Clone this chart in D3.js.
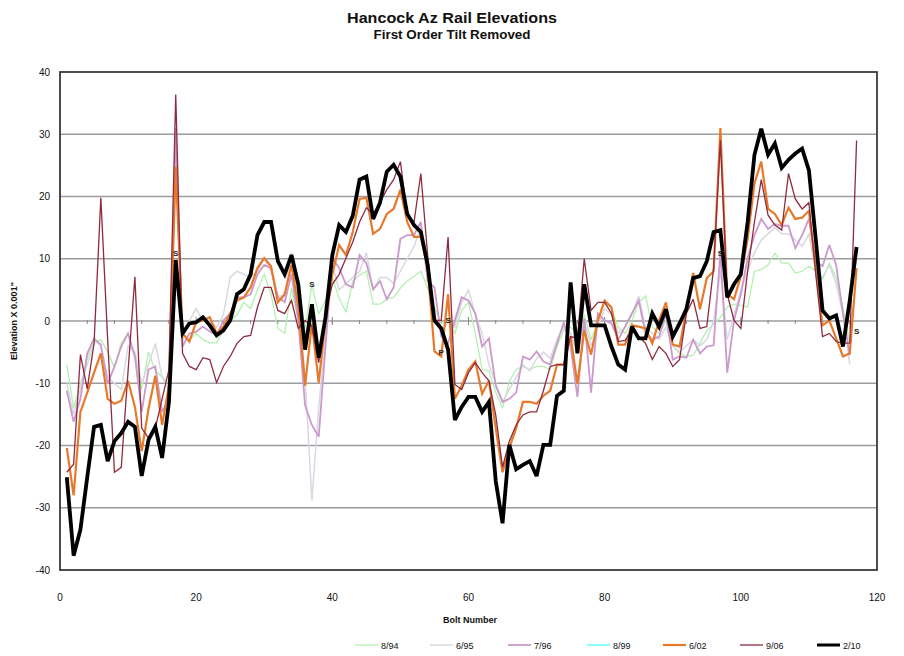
<!DOCTYPE html>
<html><head><meta charset="utf-8">
<script src="https://cdn.jsdelivr.net/npm/d3@7"></script>
<style>
body{margin:0;background:#fff;}
svg{display:block;font-family:"Liberation Sans",Arial,sans-serif;}
</style></head>
<body><svg id="c" width="904" height="656"></svg>
<script>
const seriesNames = ["8/94","6/95","7/96","8/99","6/02","9/06","2/10"];
const seriesColors = ["#b4f0b0","#d8d8e2","#cc99cc","#66ffff","#e8792a","#8e2b3e","#000000"];
const seriesWidths = [1.3,1.5,1.8,1.5,2.2,1.3,3.8];
const xTicks = [0,20,40,60,80,100,120];
const yTicks = [-40,-30,-20,-10,0,10,20,30,40];

const s894 = [-7,-14,-10,-7,-3.5,-3,-5,-7.5,-3.5,-2,-6,-11,-5,-8,-9,-10,10,-2,-3,-2,-3,-3.5,-3.5,-1.5,0,1,3,2,5,7.5,
4.3,-1.2,-2,5.3,0,-1,5.8,1.2,3.3,6.9,3.7,1.4,6.4,7.4,8,2.7,2.7,3.5,3.8,5.3,6.4,7.2,8,5.3,2.2,-0.4,0.1,-2,1.7,3,
-2,-7.8,-8,-11.5,-14,-9.7,-7.8,-7.3,-7.8,-7.3,-7.3,-7.8,-4.1,-1.5,-1,-2,1,-3,0,3,2,-1,-2,0,3,4,-1,-2,0,-4,
-5.2,-5.7,-5.5,-3.6,-1.5,-0.5,0.6,2.2,2.7,2.5,2.2,8,8.3,9,10.9,9.3,9.3,7.7,8,8.8,8,6.7,9.3,7,2.2,-3.6,null];
const s695 = [-10,-15,-11,-6,-3,-4,-9,-10,-11,-4,-5,-10,-7,-3.6,-9,-11,26,-3,0,2,0,0,-1,1,7,8,7.5,7,8,10,
8,4,4,11,3,-9,-28.8,-14,-2,9,5,6,7,8,11,5,7,7,6,8,10,12,15,7,1,-2,0,-1,3,5,
1,-2,-7,-10,-13,-11,-9,-7,-8,-6,-5,-6,-3,-1,-2,-5,0,-4,-1,2,1,-2,-1,1,4,-1,-2,-3,-1,-4,
-5,-4,-3,-4,-3,0,8,-3,1,5,8,11,13,14,15,14,14,13,12,14,8,7,9,6,1,-7,null];
const s796 = [-11.2,-16.2,-12.5,-5.2,-2.8,-3.8,-10.1,-7.3,-4.1,-2,-5.7,-14.6,-7.8,-7.3,-14.6,-12.5,31,-4.1,-2,-1.7,-0.9,-1.7,-2.3,0.1,1.2,3.8,3.8,4.3,7.5,9,
8.5,3.8,3,7.5,0.1,-13.6,-16.7,-18.6,-4.1,10.1,8.5,5.9,5.4,10.6,9.3,5.1,6.4,3.5,5.4,13.2,13.8,13.8,15.9,6.4,5.4,-2.5,-3.6,0.1,3.8,3.3,
1.2,-4.1,-2.8,-10.4,-13,-12.5,-11.5,-5.7,-6.2,-4.9,-6.5,-7,-3.6,-0.2,-4.1,-12.2,0.4,-11.5,1.2,0.1,-0.4,-3,-0.9,1.2,3.3,-2,-3,-2.5,1.2,-6.2,
-5.7,-5.9,-3,-5.2,-4.1,-3.9,11.1,-8.3,0.1,4.3,10.1,13.8,16.4,14.8,15.6,15.3,15.3,11.7,13.8,16.4,9.6,8.8,12.2,9,1.2,-5.5,null];
const s899 = [];
const s602 = [-20.4,-28,-14.6,-11.5,-8.3,-5.2,-12.5,-13.3,-12.8,-9.6,-13.8,-20.9,-14.1,-8.8,-16.7,-10.4,24.8,-2,-3.3,-0.2,0.1,0.6,-2,-0.9,1.2,3.3,3.8,5.4,8.5,10.1,
8.8,3,4.3,9,2.2,-10.4,-0.4,-9.9,0.1,7.5,12.2,10.6,14.3,19.6,19.8,14,14.8,17.2,18,21.1,15.9,13.5,13.5,8.5,-4.9,-5.7,4.3,-12.5,-10.4,-7.8,
-6.5,-11.7,-9.6,-17.2,-24.3,-20.4,-17.2,-13,-13,-13.3,-12,-11.2,-7,-7,-2.5,-10.1,-1.5,-5.4,0.1,3.3,2.2,-3.8,-3.8,-0.7,-0.9,-1.2,-3.6,0.1,3,-3.8,
-4.1,1.7,7.7,1.9,6.9,8,31,4.3,3.5,7.2,13.2,22.1,25.6,18,17.2,15.4,18.2,16.4,16.6,17.7,8.5,-0.7,0.1,-2.8,-5.7,-5.2,8.5];
const s906 = [-24.3,-23,-5.4,-10.9,-3.6,19.8,-3,-24.3,-23.5,-8,7.1,-17.2,-18.8,-17.2,-12.5,-7.8,36.4,-5.2,-7.3,-7.8,-5.9,-6.2,-9.9,-7.3,-5.7,-3.6,-2.5,-2.3,2.2,5.4,
5.4,1.7,1.2,3.3,-1.2,0.1,-0.9,-6.7,1.2,5.9,7.5,10.1,12.7,15.9,18.2,17.2,19,21.1,22.7,25.6,17,15.9,23.7,10.6,0.1,0.1,13.5,-10.2,-11,-8.3,
-6.7,-8.3,-9.6,-15.1,-23.5,-19.3,-16.7,-15.1,-14.6,-14.6,-11.2,-7.3,-7,-7,-2.5,-2.8,10,1.7,3,3,1.2,-3.3,-3.1,-1.5,-2.5,-3.6,-6.2,-4.1,-5.2,-7.3,
-6.2,1.2,3.5,-1.2,-0.9,8.5,29,4.3,0.1,-1.2,8,15.9,22.7,17,15.4,14.6,23.7,19.6,18,19,7.5,-2.5,-2,-3.3,-3.6,-3.5,29];
const s210 = [-25.1,-37.7,-33.5,-25.1,-17,-16.7,-22.5,-19.3,-18,-16.2,-17,-24.9,-19.1,-17,-22,-13,9.8,-2,-0.4,-0.2,0.6,-0.7,-2.3,-1.5,0.1,4.3,5.1,7.5,13.8,15.9,
15.9,9.6,7.5,10.6,5.9,-4.6,2.7,-5.9,0.6,10.6,15.4,14.3,16.9,22.7,23.2,16.4,19,24,25.1,23.2,17.2,15.4,14.3,9,0.1,-1.2,-4.6,-15.9,-13.8,-12.2,
-12.2,-14.6,-13,-25.7,-32.5,-19.9,-23.8,-23.1,-22.5,-24.9,-19.9,-19.9,-12,-11.2,6.2,-5.2,5.9,-0.7,-0.7,-0.7,-4.1,-7,-7.8,-0.9,-2.8,-2.8,1.2,-0.9,1.9,-2.5,
-0.4,1.9,6.9,7.2,9.6,14.3,14.6,3.8,5.9,7.5,15.9,26.7,30.9,26.7,28.5,24.6,25.9,26.9,27.7,24.2,13.2,1.7,0.4,0.9,-4.1,3.3,11.9];
const seriesValues = [s894,s695,s796,s899,s602,s906,s210];

const labelTexts = ["S","S","S","P","S","S"];
const labelBolts = [17,37,57,56,97,117];
const labelValues = [10.9,5.9,0.2,-5,10.9,-1.6];

const svg = d3.select("#c");
const L=60,R=877,T=72,B=570;
const x = d3.scaleLinear().domain([0,120]).range([L,R]);
const y = d3.scaleLinear().domain([-40,40]).range([B,T]);

// gridlines
svg.append("g").selectAll("line").data(yTicks.filter(v=>v>-40&&v<40)).join("line")
  .attr("x1",L).attr("x2",R).attr("y1",d=>y(d)).attr("y2",d=>y(d))
  .attr("stroke","#9a9ca0").attr("stroke-width",1.6);

// x axis crossing at 0 with minor ticks
const minor = d3.range(4,120,4);
svg.append("g").selectAll("line").data(minor).join("line")
  .attr("x1",d=>x(d)).attr("x2",d=>x(d)).attr("y1",y(0)-1).attr("y2",y(0)+3)
  .attr("stroke","#888").attr("stroke-width",1);
svg.append("g").selectAll("line").data(xTicks.slice(1,-1)).join("line")
  .attr("x1",d=>x(d)).attr("x2",d=>x(d)).attr("y1",y(0)-4).attr("y2",y(0)+4)
  .attr("stroke","#888").attr("stroke-width",1);

// series
const line = d3.line().defined(d=>d!=null).x((d,i)=>x(i+1)).y(d=>y(d));
const order=[0,1,2,3,4,5,6];
svg.append("g").selectAll("path").data(order).join("path")
  .attr("d",k=>line(seriesValues[k]))
  .attr("fill","none").attr("stroke",k=>seriesColors[k]).attr("stroke-width",k=>seriesWidths[k])
  .attr("stroke-linejoin","miter").attr("stroke-miterlimit",3);

// point labels
svg.append("g").selectAll("text").data(labelTexts).join("text")
  .attr("x",(d,i)=>x(labelBolts[i])).attr("y",(d,i)=>y(labelValues[i])+3)
  .attr("text-anchor","middle").attr("font-size",8).attr("font-weight","bold").attr("fill","#222")
  .text(d=>d);

// frame
svg.append("rect").attr("x",L).attr("y",T).attr("width",R-L).attr("height",B-T)
  .attr("fill","none").attr("stroke","#3a3a3a").attr("stroke-width",1.8);

// tick labels
svg.append("g").selectAll("text").data(yTicks).join("text")
  .attr("x",L-10).attr("y",d=>y(d)+3.5).attr("text-anchor","end")
  .attr("font-size",10).attr("fill","#111").text(d=>d);
svg.append("g").selectAll("text").data(xTicks).join("text")
  .attr("x",d=>x(d)).attr("y",B+31).attr("text-anchor","middle")
  .attr("font-size",10).attr("fill","#111").text(d=>d);

// titles
svg.append("text").attr("x",452).attr("y",23).attr("text-anchor","middle")
  .attr("font-size",15.5).attr("font-weight","bold").attr("fill","#111")
  .attr("textLength",210).attr("lengthAdjust","spacingAndGlyphs").text("Hancock Az Rail Elevations");
svg.append("text").attr("x",452).attr("y",39).attr("text-anchor","middle")
  .attr("font-size",12.5).attr("font-weight","bold").attr("fill","#111")
  .attr("textLength",157).attr("lengthAdjust","spacingAndGlyphs").text("First Order Tilt Removed");
svg.append("text").attr("transform","translate(17,"+((T+B)/2)+") rotate(-90)").attr("text-anchor","middle")
  .attr("font-size",9).attr("font-weight","bold").attr("fill","#111").text("Elevation X 0.001\"");
svg.append("text").attr("x",470).attr("y",623).attr("text-anchor","middle")
  .attr("font-size",9).attr("font-weight","bold").attr("fill","#111").text("Bolt Number");

// legend
const legX = [355,430,508,587,663,740,817];
const lg = svg.append("g").selectAll("g").data(seriesNames).join("g")
  .attr("transform",(d,i)=>"translate("+legX[i]+",645)");
lg.append("line").attr("x1",0).attr("x2",23).attr("y1",0).attr("y2",0)
  .attr("stroke",(d,i)=>seriesColors[i]).attr("stroke-width",(d,i)=>Math.min(seriesWidths[i],3));
lg.append("text").attr("x",26).attr("y",3.5).attr("font-size",9).attr("fill","#111").text(d=>d);
</script></body></html>
